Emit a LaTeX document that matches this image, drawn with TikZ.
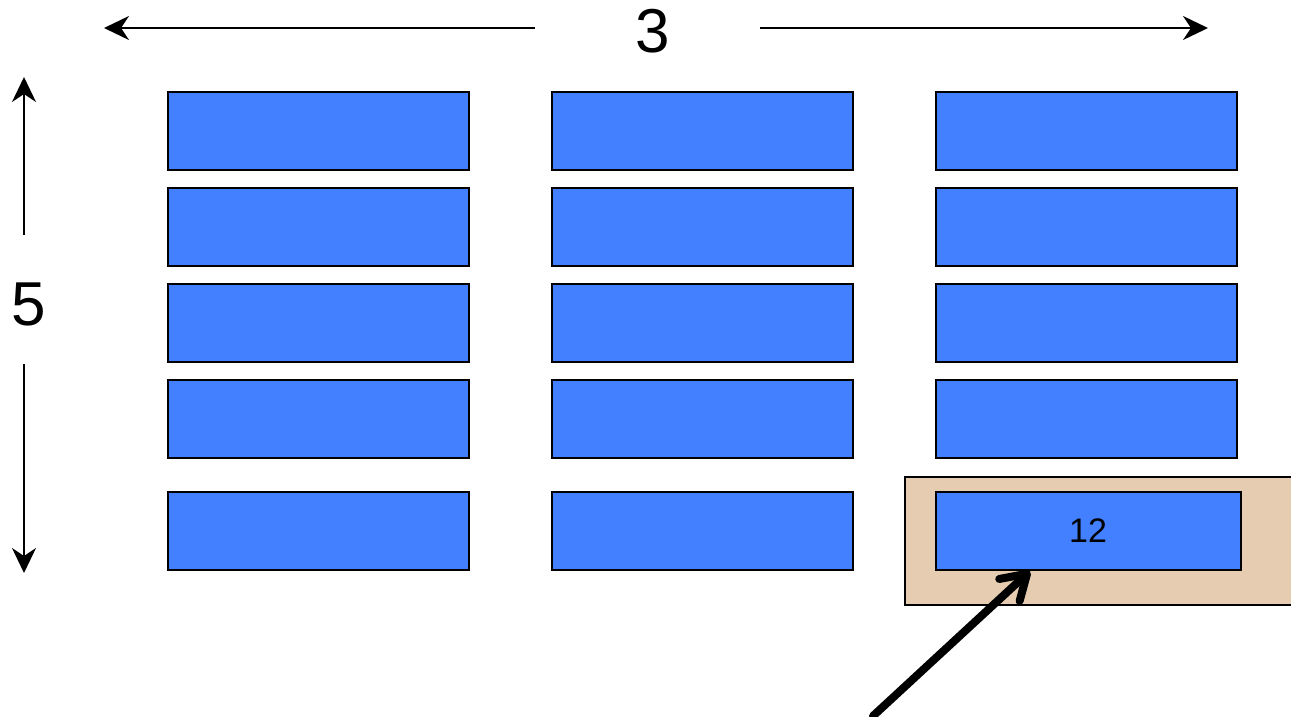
\documentclass[tikz,border=0pt]{standalone}
\usepackage{fontspec}
\setmainfont{Liberation Sans}
\usetikzlibrary{arrows.meta}
\definecolor{boxblue}{RGB}{66,128,255}
\definecolor{tan}{RGB}{230,205,178}
\begin{document}
\begin{tikzpicture}[x=1pt,y=-1pt,
  cell/.style={draw=black,line width=2pt,fill=boxblue,minimum width=301pt,minimum height=78pt,inner sep=0pt,font=\fontsize{34}{40}\selectfont},
  dimline/.style={line width=1.6pt,-{Stealth[length=25pt,width=24pt,inset=8pt]}},
  biglabel/.style={inner sep=0pt,font=\fontsize{62}{72}\selectfont},
  pointer/.style={line width=8pt,line cap=round,-{Straight Barb[length=24pt,width=30pt,round,line width=8pt]}}]
\clip (0,0) rectangle (1291,716);
\fill[white] (0,0) rectangle (1291,716);
% highlight
\node[draw=black,line width=2pt,fill=tan,minimum width=400pt,minimum height=128pt,anchor=north west,inner sep=0pt] (hl) at (904,476) {};
% grid of boxes
\foreach \c/\x in {1/318.5,2/702.5,3/1086.5}{
  \foreach \r/\y in {1/131,2/227,3/323,4/419}{
    \node[cell] (b\c\r) at (\x,\y) {};
  }
}
\node[cell] (b15) at (318.5,531) {};
\node[cell] (b25) at (702.5,531) {};
\node[cell,minimum width=305pt] (b35) at (1088,531) {12};
% dimension labels
\node[biglabel] (three) at (653,31) {3};
\node[biglabel] (five) at (29,304) {5};
\coordinate (tl) at (104,28);
\coordinate (tr) at (1208,28);
\coordinate (lt) at (24,77);
\coordinate (lb) at (24,573);
\draw[dimline] (535,28) -- (tl);
\draw[dimline] (760,28) -- (tr);
\draw[dimline] (24,235) -- (lt);
\draw[dimline] (24,364) -- (lb);
% pointer
\coordinate (ptail) at (873,716);
\draw[pointer] (ptail) -- (b35.south -| 1030,0);
\end{tikzpicture}
\end{document}
